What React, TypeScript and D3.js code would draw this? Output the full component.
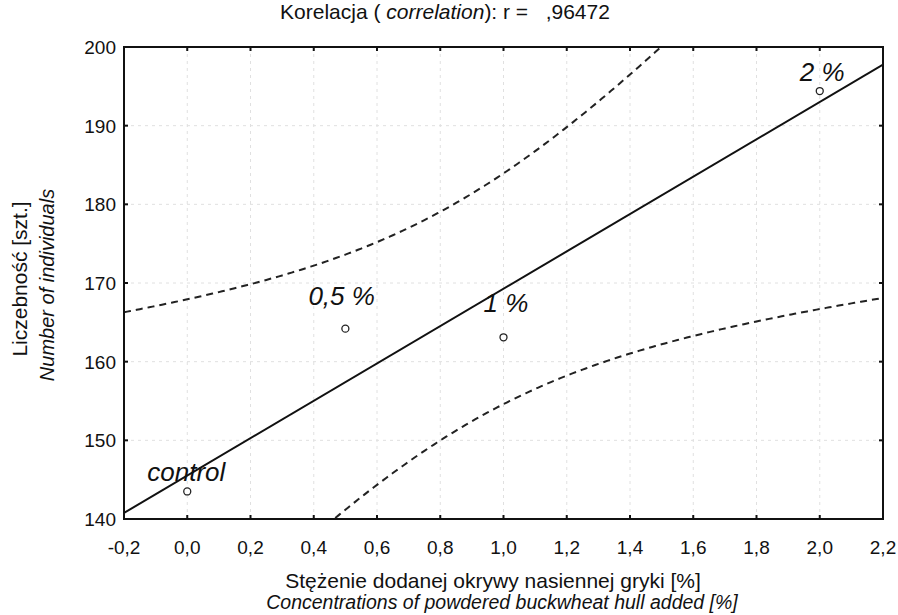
import React from "react";
import * as d3 from "d3";

// measured points: concentration [%] vs number of individuals
const concentrations = [0, 0.5, 1, 2];
const counts = [143.5, 164.2, 163.1, 194.4];
const pointLabels = ["control", "0,5 %", "1 %", "2 %"];
const xTicks = [-0.2, 0, 0.2, 0.4, 0.6, 0.8, 1.0, 1.2, 1.4, 1.6, 1.8, 2.0, 2.2];
const yTicks = [140, 150, 160, 170, 180, 190, 200];

const W = 898;
const H = 615;
const margin = { top: 47, right: 15, bottom: 96, left: 124 };

// linear fit + 95% confidence band
const fit = () => {
  const n = concentrations.length;
  const mx = d3.mean(concentrations) as number;
  const my = d3.mean(counts) as number;
  const sxx = d3.sum(concentrations, (x) => (x - mx) ** 2);
  const sxy = d3.sum(concentrations, (x, i) => (x - mx) * (counts[i] - my));
  const b = sxy / sxx;
  const a = my - b * mx;
  const sse = d3.sum(concentrations, (x, i) => (counts[i] - (a + b * x)) ** 2);
  const s = Math.sqrt(sse / (n - 2));
  const t = 4.303; // t(0.975, df=2)
  return { a, b, mx, sxx, s, t, n };
};

const App = () => {
  const innerW = W - margin.left - margin.right;
  const innerH = H - margin.top - margin.bottom;
  const x = d3.scaleLinear().domain([-0.2, 2.2]).range([0, innerW]);
  const y = d3.scaleLinear().domain([140, 200]).range([innerH, 0]);

  const { a, b, mx, sxx, s, t, n } = fit();
  const grid = d3.range(-0.2, 2.2001, 0.01);
  const band = (sign: number) =>
    grid.map((xv) => {
      const se = s * Math.sqrt(1 / n + (xv - mx) ** 2 / sxx);
      return [xv, a + b * xv + sign * t * se] as [number, number];
    });
  const line = d3
    .line<[number, number]>()
    .x((d) => x(d[0]))
    .y((d) => y(d[1]));

  const font = "'Liberation Sans', Arial, sans-serif";
  const labelOffsets = [
    [-40, -10],
    [-37, -24],
    [-20, -25],
    [-20, -10],
  ];

  return (
    <svg width={W} height={H} style={{ position: "absolute", left: 0, top: 0, background: "#fff" }} fontFamily={font}>
      <text x={445} y={19} textAnchor="middle" fontSize={21} fill="#111">
        Korelacja ( <tspan fontStyle="italic">correlation</tspan>): r ={"\u00a0\u00a0\u00a0"},96472
      </text>
      <defs>
        <clipPath id="plot">
          <rect width={innerW} height={innerH} />
        </clipPath>
      </defs>
      <g transform={`translate(${margin.left},${margin.top})`}>
        {xTicks.map((v) => (
          <line key={"gx" + v} x1={x(v)} x2={x(v)} y1={0} y2={innerH} stroke="#e0e0e0" strokeDasharray="3,4" />
        ))}
        {yTicks.map((v) => (
          <line key={"gy" + v} x1={0} x2={innerW} y1={y(v)} y2={y(v)} stroke="#e0e0e0" strokeDasharray="3,4" />
        ))}
        <g clipPath="url(#plot)">
          <path d={line(band(1)) || ""} fill="none" stroke="#222" strokeWidth={2} strokeDasharray="7,5" />
          <path d={line(band(-1)) || ""} fill="none" stroke="#222" strokeWidth={2} strokeDasharray="7,5" />
          <path d={line([[-0.2, a + b * -0.2], [2.2, a + b * 2.2]]) || ""} fill="none" stroke="#111" strokeWidth={2} />
        </g>
        {concentrations.map((c, i) => (
          <g key={"p" + i}>
            <circle cx={x(c)} cy={y(counts[i])} r={3.5} fill="#fff" stroke="#222" strokeWidth={1.3} />
            <text
              x={x(c) + labelOffsets[i][0]}
              y={y(counts[i]) + labelOffsets[i][1]}
              fontSize={26}
              fontStyle="italic"
              fill="#111"
            >
              {pointLabels[i]}
            </text>
          </g>
        ))}
        <rect width={innerW} height={innerH} fill="none" stroke="#111" strokeWidth={2} />
        {xTicks.map((v) => (
          <g key={"tx" + v}>
            <line x1={x(v)} x2={x(v)} y1={innerH} y2={innerH - 4} stroke="#111" strokeWidth={2} />
            <line x1={x(v)} x2={x(v)} y1={0} y2={4} stroke="#111" strokeWidth={2} />
            <text x={x(v)} y={innerH + 35} textAnchor="middle" fontSize={19} fill="#111">
              {d3.format(".1f")(v).replace(".", ",").replace("−", "-")}
            </text>
          </g>
        ))}
        {yTicks.map((v) => (
          <g key={"ty" + v}>
            <line x1={0} x2={4} y1={y(v)} y2={y(v)} stroke="#111" strokeWidth={2} />
            <line x1={innerW} x2={innerW - 4} y1={y(v)} y2={y(v)} stroke="#111" strokeWidth={2} />
            <text x={-8} y={y(v) + 7} textAnchor="end" fontSize={19} fill="#111">
              {v}
            </text>
          </g>
        ))}
      </g>
      <text x={493} y={588} textAnchor="middle" fontSize={21} fill="#111">
        Stężenie dodanej okrywy nasiennej gryki [%]
      </text>
      <text x={502} y={609} textAnchor="middle" fontSize={19.5} fontStyle="italic" fill="#111">
        Concentrations of powdered buckwheat hull added [%]
      </text>
      <text transform="translate(27,279) rotate(-90)" textAnchor="middle" fontSize={21} fill="#111">
        Liczebność [szt.]
      </text>
      <text transform="translate(54,285) rotate(-90)" textAnchor="middle" fontSize={20} fontStyle="italic" fill="#111">
        Number of individuals
      </text>
    </svg>
  );
};

export default App;
